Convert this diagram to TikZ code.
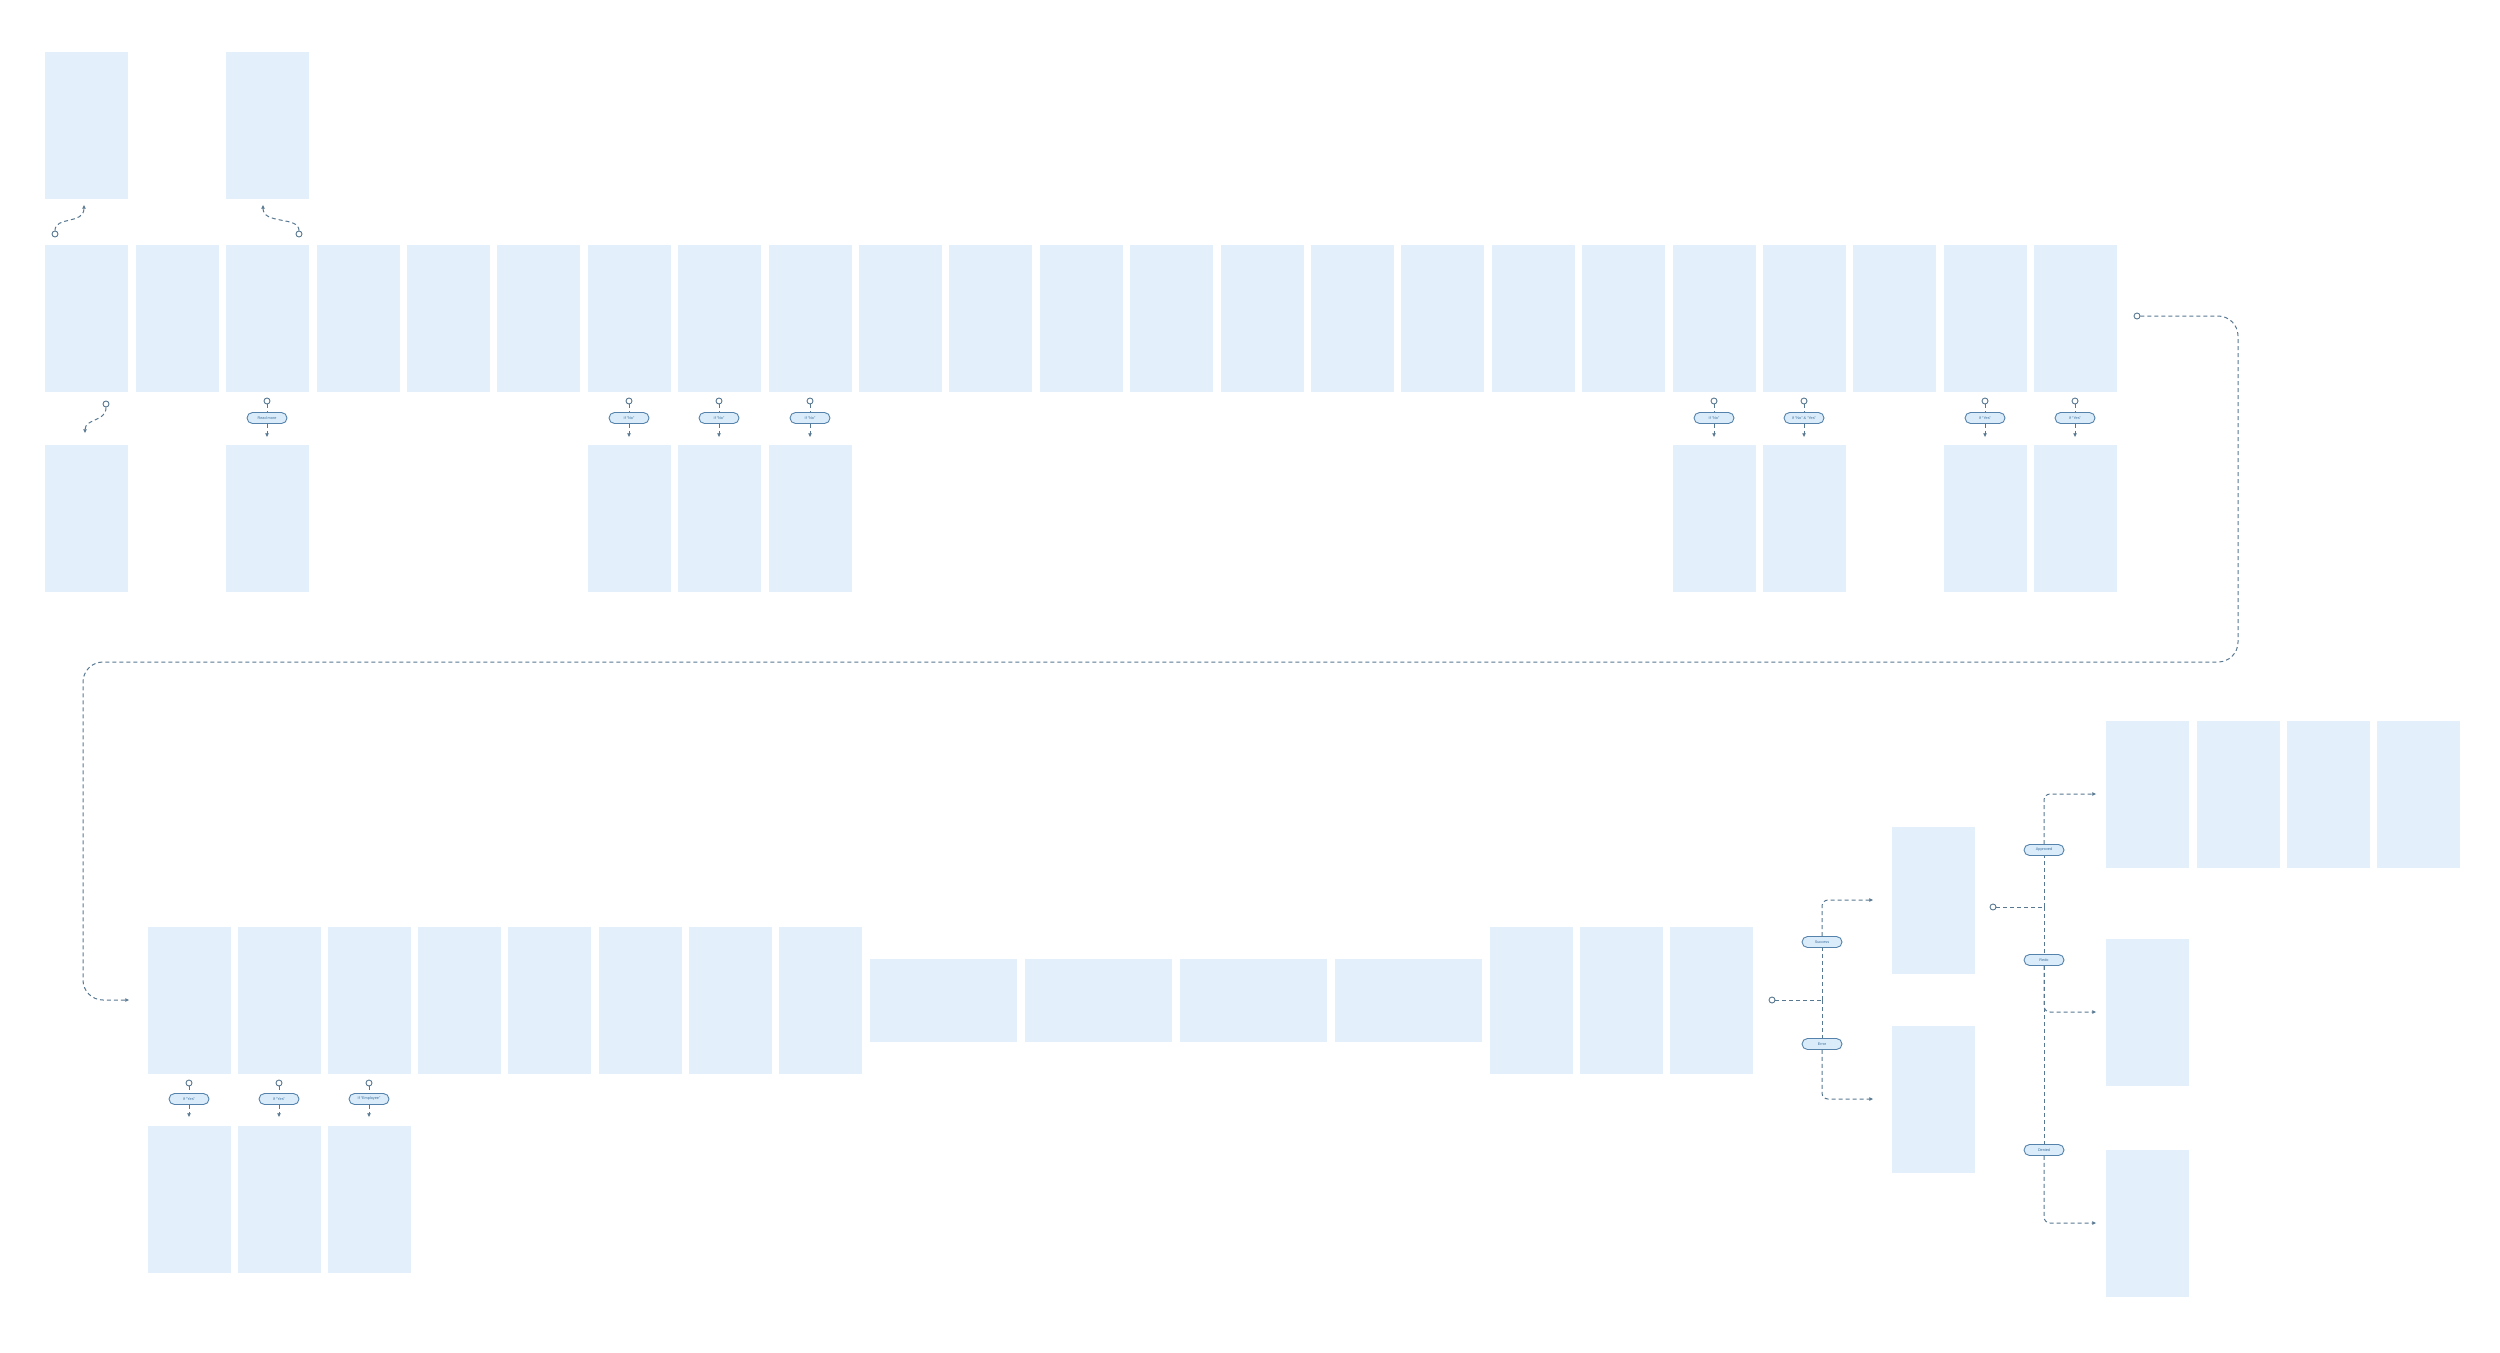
\documentclass[tikz,border=0pt]{standalone}
\usepackage{fontspec}
\setmainfont{Liberation Sans}
\usetikzlibrary{arrows.meta}
\definecolor{scrfill}{RGB}{227,240,251}
\definecolor{flowline}{RGB}{88,120,145}
\definecolor{pillfill}{RGB}{218,236,250}
\definecolor{pilldraw}{RGB}{84,130,170}
\definecolor{pilltext}{RGB}{60,110,155}

\begin{document}
\begin{tikzpicture}[x=1pt,y=-1pt]
\tikzstyle{screen}=[rectangle,fill=scrfill,inner sep=0pt,minimum width=83pt,minimum height=147pt]
\tikzstyle{wide}=[rectangle,fill=scrfill,inner sep=0pt,minimum width=147pt,minimum height=83pt]
\tikzstyle{cond}=[rectangle,rounded corners=5.5pt,draw=pilldraw,fill=pillfill,line width=0.9pt,inner sep=0pt,minimum width=40pt,minimum height=11pt,text=pilltext,font=\fontsize{3.8}{4}\selectfont]
\tikzstyle{dot}=[circle,draw=flowline,fill=white,line width=0.9pt,inner sep=0pt,minimum size=6pt]
\tikzstyle{flow}=[draw=flowline,line width=1pt,dash pattern=on 4pt off 3pt]
\tikzstyle{flowarrow}=[flow,-{Latex[length=4pt,width=4pt]}]
\useasboundingbox (0,0) rectangle (2500,1352);

\node [screen] (a1) at (86,125) {};
\node [screen] (a3) at (267,125) {};

\node [screen] (t1) at (86,318) {};
\node [screen] (t2) at (177,318) {};
\node [screen] (t3) at (267,318) {};
\node [screen] (t4) at (358,318) {};
\node [screen] (t5) at (448,318) {};
\node [screen] (t6) at (538,318) {};
\node [screen] (t7) at (629,318) {};
\node [screen] (t8) at (719,318) {};
\node [screen] (t9) at (810,318) {};
\node [screen] (t10) at (900,318) {};
\node [screen] (t11) at (990,318) {};
\node [screen] (t12) at (1081,318) {};
\node [screen] (t13) at (1171,318) {};
\node [screen] (t14) at (1262,318) {};
\node [screen] (t15) at (1352,318) {};
\node [screen] (t16) at (1442,318) {};
\node [screen] (t17) at (1533,318) {};
\node [screen] (t18) at (1623,318) {};
\node [screen] (t19) at (1714,318) {};
\node [screen] (t20) at (1804,318) {};
\node [screen] (t21) at (1894,318) {};
\node [screen] (t22) at (1985,318) {};
\node [screen] (t23) at (2075,318) {};

\node [screen] (l1) at (86,518) {};
\node [screen] (l3) at (267,518) {};
\node [screen] (l7) at (629,518) {};
\node [screen] (l8) at (719,518) {};
\node [screen] (l9) at (810,518) {};
\node [screen] (l19) at (1714,518) {};
\node [screen] (l20) at (1804,518) {};
\node [screen] (l22) at (1985,518) {};
\node [screen] (l23) at (2075,518) {};

\node [dot] (oa1) at (55,234) {};
\node [dot] (oa3) at (299,234) {};
\node [dot] (ol1) at (106,404) {};
\draw [flowarrow,shorten >=6pt] (oa1) .. controls +(0,-18) and +(0,26) .. ([xshift=-2pt]a1.south);
\draw [flowarrow,shorten >=6pt] (oa3) .. controls +(0,-18) and +(0,26) .. ([xshift=-4pt]a3.south);
\draw [flowarrow,shorten >=11pt] (ol1) .. controls +(0,18) and +(0,-26) .. ([xshift=-1pt]l1.north);

\node [dot] (o3) at (267,401) {};
\node [cond] (c3) at (267,418) {Read more};
\node [dot] (o7) at (629,401) {};
\node [cond] (c7) at (629,418) {If “No”};
\node [dot] (o8) at (719,401) {};
\node [cond] (c8) at (719,418) {If “No”};
\node [dot] (o9) at (810,401) {};
\node [cond] (c9) at (810,418) {If “No”};
\node [dot] (o19) at (1714,401) {};
\node [cond] (c19) at (1714,418) {If “No”};
\node [dot] (o20) at (1804,401) {};
\node [cond] (c20) at (1804,418) {If “No” \& “Yes”};
\node [dot] (o22) at (1985,401) {};
\node [cond] (c22) at (1985,418) {If “Yes”};
\node [dot] (o23) at (2075,401) {};
\node [cond] (c23) at (2075,418) {If “Yes”};
\draw [flow] (o3) -- (c3); \draw [flowarrow,shorten >=7pt] (c3) -- (l3);
\draw [flow] (o7) -- (c7); \draw [flowarrow,shorten >=7pt] (c7) -- (l7);
\draw [flow] (o8) -- (c8); \draw [flowarrow,shorten >=7pt] (c8) -- (l8);
\draw [flow] (o9) -- (c9); \draw [flowarrow,shorten >=7pt] (c9) -- (l9);
\draw [flow] (o19) -- (c19); \draw [flowarrow,shorten >=7pt] (c19) -- (l19);
\draw [flow] (o20) -- (c20); \draw [flowarrow,shorten >=7pt] (c20) -- (l20);
\draw [flow] (o22) -- (c22); \draw [flowarrow,shorten >=7pt] (c22) -- (l22);
\draw [flow] (o23) -- (c23); \draw [flowarrow,shorten >=7pt] (c23) -- (l23);

\node [screen] (b1) at (189,1000) {};
\node [screen] (b2) at (279,1000) {};
\node [screen] (b3) at (369,1000) {};
\node [screen] (b4) at (459,1000) {};
\node [screen] (b5) at (549,1000) {};
\node [screen] (b6) at (640,1000) {};
\node [screen] (b7) at (730,1000) {};
\node [screen] (b8) at (820,1000) {};
\node [wide] (w1) at (943,1000) {};
\node [wide] (w2) at (1098,1000) {};
\node [wide] (w3) at (1253,1000) {};
\node [wide] (w4) at (1408,1000) {};
\node [screen] (b9) at (1531,1000) {};
\node [screen] (b10) at (1621,1000) {};
\node [screen] (b11) at (1711,1000) {};

\node [screen] (m1) at (189,1199) {};
\node [screen] (m2) at (279,1199) {};
\node [screen] (m3) at (369,1199) {};

\node [dot] (p1) at (189,1083) {};
\node [cond] (d1) at (189,1099) {If “Yes”};
\node [dot] (p2) at (279,1083) {};
\node [cond] (d2) at (279,1099) {If “Yes”};
\node [dot] (p3) at (369,1083) {};
\node [cond] (d3) at (369,1099) {If “Employee”};
\draw [flow] (p1) -- (d1); \draw [flowarrow,shorten >=8pt] (d1) -- (m1);
\draw [flow] (p2) -- (d2); \draw [flowarrow,shorten >=8pt] (d2) -- (m2);
\draw [flow] (p3) -- (d3); \draw [flowarrow,shorten >=8pt] (d3) -- (m3);

\node [dot] (ot) at (2137,316) {};
\coordinate (k1) at (2238,662);
\coordinate (k2) at (83,662);
\draw [flowarrow,rounded corners=20pt,shorten >=18pt] (ot) -| (k1) -- (k2) |- (b1.west);

\node [screen] (r1) at (1933,900) {};
\node [screen] (r2) at (1933,1099) {};
\node [dot] (ob) at (1772,1000) {};
\coordinate (j1) at (1822,1000);
\node [cond] (succ) at (1822,942) {Success};
\node [cond] (err) at (1822,1044) {Error};
\draw [flow] (ob) -- (j1);
\draw [flow] (j1) -- (succ);
\draw [flow] (j1) -- (err);
\draw [flowarrow,rounded corners=6pt,shorten >=18pt] (succ) |- (r1.west);
\draw [flowarrow,rounded corners=6pt,shorten >=18pt] (err) |- (r2.west);

\node [screen] (s1) at (2147,794) {};
\node [screen] (s2) at (2238,794) {};
\node [screen] (s3) at (2328,794) {};
\node [screen] (s4) at (2418,794) {};
\node [screen] (s5) at (2147,1012) {};
\node [screen] (s6) at (2147,1223) {};
\node [dot] (or) at (1993,907) {};
\coordinate (j2) at (2044,907);
\node [cond] (appr) at (2044,850) {Approved};
\node [cond] (redo) at (2044,960) {Redo};
\node [cond] (deny) at (2044,1150) {Denied};
\draw [flow] (or) -- (j2);
\draw [flow] (j2) -- (appr);
\draw [flow] (j2) -- (redo);
\draw [flow] (redo) -- (deny);
\draw [flowarrow,rounded corners=6pt,shorten >=9pt] (appr) |- (s1.west);
\draw [flowarrow,rounded corners=6pt,shorten >=9pt] (redo) |- (s5.west);
\draw [flowarrow,rounded corners=6pt,shorten >=9pt] (deny) |- (s6.west);
\end{tikzpicture}
\end{document}
